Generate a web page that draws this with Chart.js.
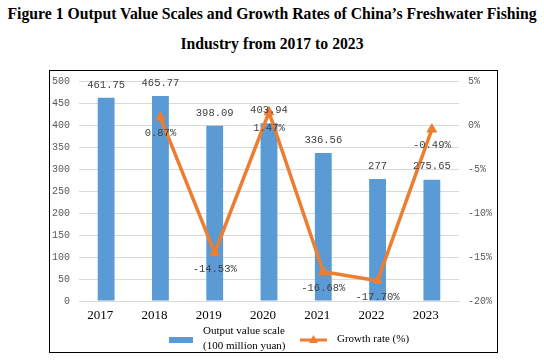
<!DOCTYPE html>
<html>
<head>
<meta charset="utf-8">
<script src="https://cdn.jsdelivr.net/npm/chart.js@4/dist/chart.umd.min.js"></script>
<style>
  body { margin: 0; background: #fff; }
  #wrap { position: relative; width: 544px; height: 360px; }
  .title { position: absolute; left: 272px; transform: translateX(-50%) scaleX(0.925);
           font: bold 17px "Liberation Serif", serif; color: #000; white-space: nowrap; }
  #frame { position: absolute; left: 49px; top: 70px; width: 447px; height: 281px; border: 1px solid #000; }
  #chart { position: absolute; left: 0; top: 0; }
</style>
</head>
<body>
<div id="wrap">
  <div class="title" style="top:4px">Figure 1 Output Value Scales and Growth Rates of China’s Freshwater Fishing</div>
  <div class="title" style="top:34px">Industry from 2017 to 2023</div>
  <div id="frame"></div>
  <canvas id="chart" width="544" height="360"></canvas>
</div>
<script>
// data
const years = ['2017', '2018', '2019', '2020', '2021', '2022', '2023'];
const outputValue = [461.75, 465.77, 398.09, 403.94, 336.56, 277, 275.65]; // 100 million yuan
const growthRate = [null, 0.87, -14.53, 1.47, -16.68, -17.70, -0.49]; // %
const barLegend = ['Output value scale', '(100 million yuan)'];
const lineLegend = 'Growth rate (%)';

const blue = '#5B9BD5';
const orange = '#ED7D31';
const labelFont = '10.5px "Liberation Mono", monospace';

// value labels on bars and points
const valueLabels = {
    id: 'valueLabels',
    afterDatasetsDraw(chart) {
        const ctx = chart.ctx;
        ctx.save();
        ctx.font = labelFont;
        ctx.fillStyle = '#404040';
        ctx.textAlign = 'center';
        ctx.textBaseline = 'middle';
        chart.getDatasetMeta(1).data.forEach((bar, i) => {
            ctx.fillText(String(outputValue[i]), bar.x, bar.y - 13);
        });
        chart.getDatasetMeta(0).data.forEach((pt, i) => {
            if (growthRate[i] === null) return;
            ctx.fillText(growthRate[i].toFixed(2) + '%', pt.x, pt.y + 16);
        });
        ctx.restore();
    }
};

// legend under the axis, bar entry has two lines
const bottomLegend = {
    id: 'bottomLegend',
    afterDraw(chart) {
        const ctx = chart.ctx;
        ctx.save();
        ctx.fillStyle = blue;
        ctx.fillRect(169, 337, 24, 6);
        ctx.font = '11px "Liberation Serif", serif';
        ctx.fillStyle = '#000';
        ctx.textBaseline = 'middle';
        ctx.fillText(barLegend[0], 203, 331);
        ctx.fillText(barLegend[1], 203, 346);
        ctx.strokeStyle = orange;
        ctx.lineWidth = 3;
        ctx.beginPath();
        ctx.moveTo(300, 340);
        ctx.lineTo(327, 340);
        ctx.stroke();
        ctx.fillStyle = orange;
        ctx.beginPath();
        ctx.moveTo(313.5, 335);
        ctx.lineTo(318, 343);
        ctx.lineTo(309, 343);
        ctx.closePath();
        ctx.fill();
        ctx.fillStyle = '#000';
        ctx.fillText(lineLegend, 337, 339);
        ctx.restore();
    }
};

new Chart(document.getElementById('chart'), {
    data: {
        labels: years,
        datasets: [{
            type: 'line',
            label: lineLegend,
            data: growthRate,
            yAxisID: 'y1',
            borderColor: orange,
            backgroundColor: orange,
            borderWidth: 3.5,
            pointStyle: 'triangle',
            pointRadius: 5.5,
            pointBorderWidth: 1,
            tension: 0,
            order: 0
        }, {
            type: 'bar',
            label: barLegend.join(' '),
            data: outputValue,
            yAxisID: 'y',
            backgroundColor: blue,
            categoryPercentage: 1,
            barPercentage: 0.31,
            order: 1
        }]
    },
    options: {
        responsive: false,
        animation: false,
        layout: { padding: { top: 81, left: 0, right: 0, bottom: 0 } },
        plugins: {
            legend: { display: false },
            tooltip: { enabled: false }
        },
        scales: {
            x: {
                grid: { display: false, drawTicks: false },
                border: { color: '#D9D9D9' },
                ticks: { color: '#000', padding: 7, labelOffset: -6,
                         font: { family: '"Liberation Serif", serif', size: 13 } },
                afterFit(s) { s.height = 59; }
            },
            y: {
                position: 'left',
                min: 0, max: 500,
                ticks: { stepSize: 50, color: '#595959', padding: 9,
                         font: { family: '"Liberation Mono", monospace', size: 10 } },
                grid: { color: '#D9D9D9', drawTicks: false },
                border: { display: false },
                afterFit(s) { s.width = 79; }
            },
            y1: {
                position: 'right',
                min: -20, max: 5,
                ticks: { stepSize: 5, color: '#595959', padding: 9,
                         font: { family: '"Liberation Mono", monospace', size: 10 },
                         callback: v => v + '%' },
                grid: { display: false, drawTicks: false },
                border: { display: false },
                afterFit(s) { s.width = 85; }
            }
        }
    },
    plugins: [valueLabels, bottomLegend]
});
</script>
</body>
</html>
